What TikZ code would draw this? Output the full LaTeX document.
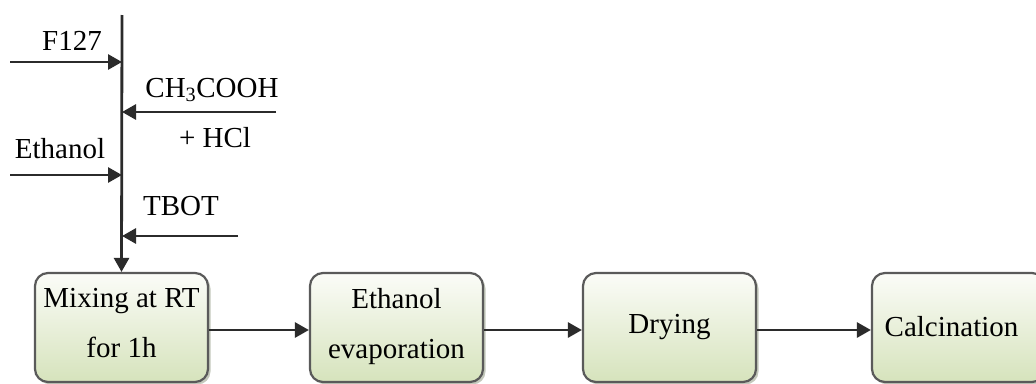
\documentclass[tikz,border=0pt]{standalone}
\usepackage{fontspec}
\setmainfont{Liberation Serif}
\usetikzlibrary{arrows.meta,shadows}

\definecolor{inkline}{HTML}{2B2B2B}
\definecolor{boxrim}{HTML}{5A5A5A}
\definecolor{boxtop}{HTML}{FBFCF8}
\definecolor{boxbottom}{HTML}{D6E3BC}

\tikzset{
  flow/.style={draw=inkline, line width=2.8pt,
    -{Triangle[length=14pt,width=15pt]}},
  stepbox/.style={draw=boxrim, line width=2.2pt, rounded corners=13pt,
    top color=boxtop, bottom color=boxbottom,
    minimum width=173pt, minimum height=109pt, inner sep=0pt,
    align=center, text=black,
    drop shadow={shadow xshift=2.5pt, shadow yshift=-2.5pt,
      opacity=0.6, fill=boxrim!45!boxbottom}},
  twoline/.style={text depth=9pt},
  feedlabel/.style={anchor=base, inner sep=0pt, text=black},
}

\begin{document}
\begin{tikzpicture}[x=1pt, y=-1pt,
  every node/.append style={font=\fontsize{29}{50}\selectfont}]
  \clip (0,0) rectangle (1036,383);
  \fill[white] (0,0) rectangle (1036,383);

  % process steps
  \node[stepbox, twoline] (mix)  at (121.5,327.5) {Mixing at RT\\for 1h};
  \node[stepbox, twoline] (evap) at (396.5,327.5) {Ethanol\\evaporation};
  \node[stepbox] (dry)  at (669.5,327.5) {Drying};
  \node[stepbox, text width=173pt] (calc) at (958.5,327.5)
    {\hspace*{-14pt}\raisebox{3pt}{Calcination}\hfill};

  % feed line into the mixing step
  \coordinate (top) at (122,15);
  \draw[flow] (top) -- (mix.north);

  \coordinate (f127s) at (10,62);
  \coordinate (acids) at (276,112);
  \coordinate (eths)  at (10,175);
  \coordinate (tbots) at (238,236);

  \draw[flow] (f127s) -- (f127s -| top);
  \draw[flow] (acids) -- (acids -| top);
  \draw[flow] (eths)  -- (eths -| top);
  \draw[flow] (tbots) -- (tbots -| top);

  \node[feedlabel] (lf127) at (72,50)   {F127};
  \node[feedlabel] (lacid) at (212,97)  {CH\textsubscript{3}COOH};
  \node[feedlabel] (lhcl)  at (215,147) {+ HCl};
  \node[feedlabel] (leth)  at (60,158)  {Ethanol};
  \node[feedlabel] (ltbot) at (181,215) {TBOT};

  % step to step
  \draw[flow] ([yshift=-2.5pt]mix.east)  -- ([yshift=-2.5pt]evap.west);
  \draw[flow] ([yshift=-2.5pt]evap.east) -- ([yshift=-2.5pt]dry.west);
  \draw[flow] ([yshift=-2.5pt]dry.east)  -- ([yshift=-2.5pt]calc.west);
\end{tikzpicture}
\end{document}
